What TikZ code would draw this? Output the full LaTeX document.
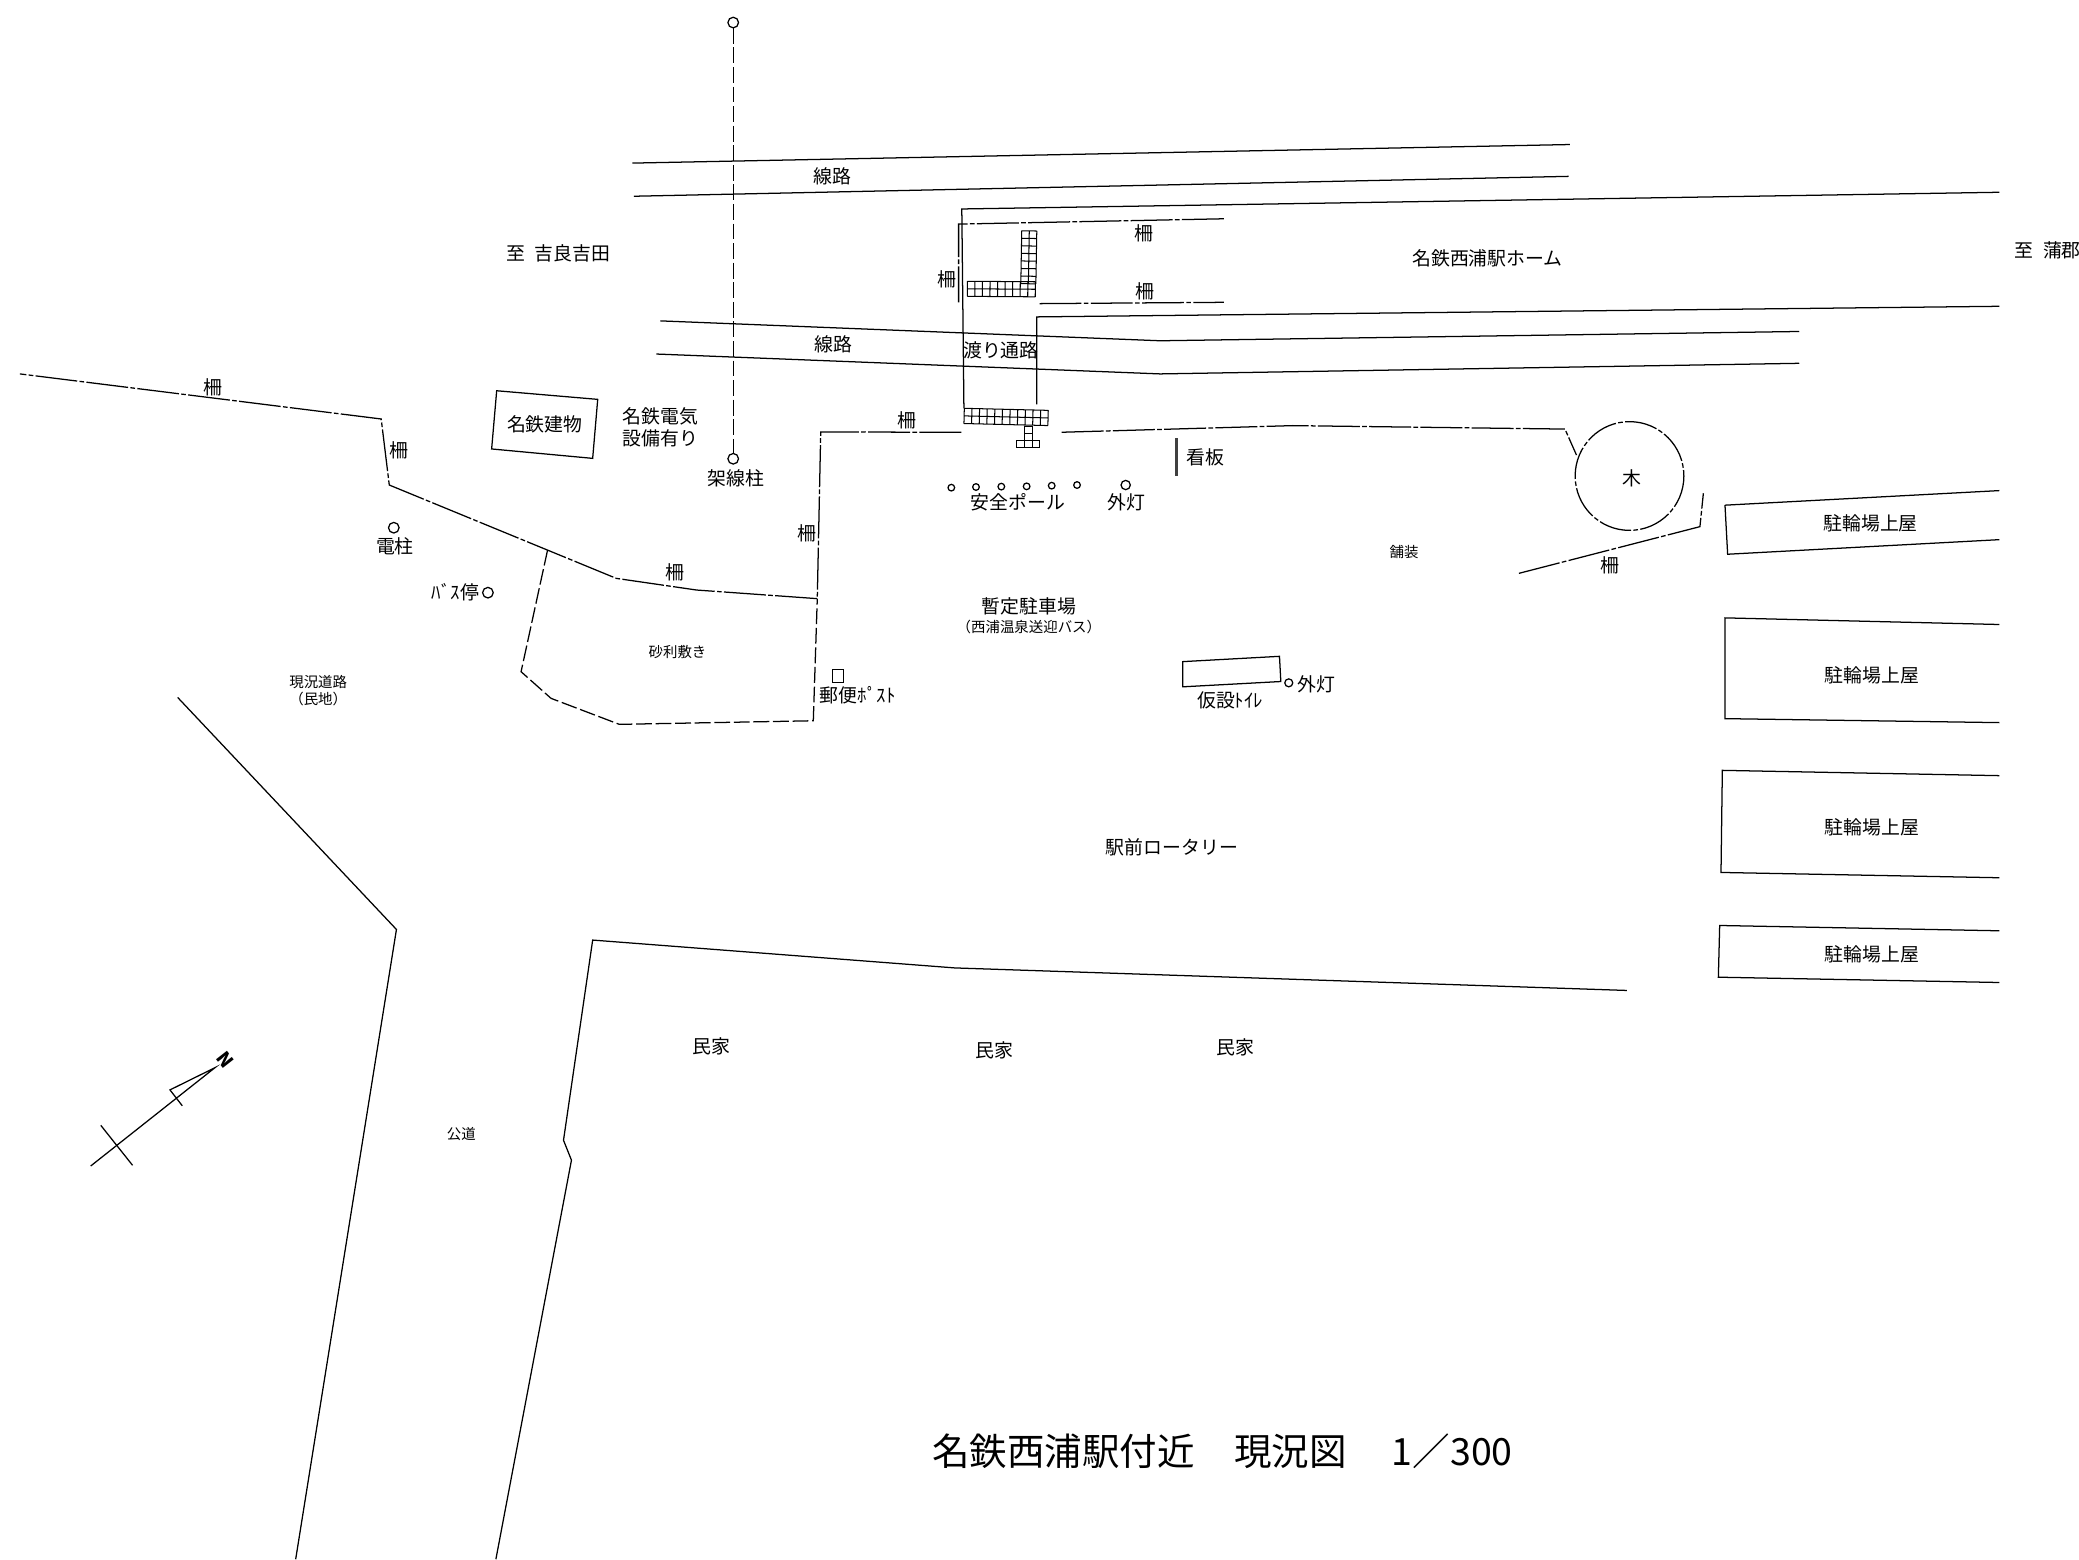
\documentclass[tikz,border=0pt]{standalone}
\usepackage{fontspec}
\setmainfont{Noto Sans CJK JP}
\usetikzlibrary{positioning}
\tikzset{
  plan/.style={black,line width=0.27pt},
  fence/.style={plan,dash pattern=on 9pt off 0.5pt on 1pt off 0.5pt},
  broken/.style={plan,dash pattern=on 3.4pt off 0.8pt},
  tile/.style={plan,line width=0.22pt,step=1},
  lbl/.style={inner sep=0pt,xshift=0.25pt,font=\fontsize{4.05}{4.7}\selectfont,align=center},
  small/.style={inner sep=0pt,font=\fontsize{3.1}{3.7}\selectfont,align=center},
}
\begin{document}
\begin{tikzpicture}[x=0.1mm,y=-0.1mm]
\useasboundingbox (0,0) rectangle (1568,1176);
\draw [broken] (553,21) -- (553,342);
\draw [plan] (553,17) circle (4);
\draw [plan] (553,346) circle (4);
\draw [plan] (477,123) -- (1184,109);
\draw [plan] (478,148) -- (1183,133);
\draw [plan] (498,242) -- (875,257) -- (1357,250);
\draw [plan] (495,267) -- (875,282) -- (1357,274);
\draw [plan] (1508,145) -- (725.4,157.6) -- (727,308);
\draw [plan] (782,305) -- (782,239) -- (1508,231);
\draw [fence] (923,165) -- (723,169) -- (723,228);
\draw [fence] (784,229) -- (923,228);
\begin{scope}[shift={(729.6,212.1)},rotate=-0.4,x=0.57mm,y=0.57mm]
\draw [tile] (0,0) grid (9,-2);
\end{scope}
\begin{scope}[shift={(770.6,174)},rotate=-1,x=0.57mm,y=0.57mm]
\draw [tile] (0,0) grid (2,-7);
\end{scope}
\begin{scope}[shift={(727.3,307.9)},rotate=-1.4,x=0.576mm,y=0.576mm]
\draw [tile] (0,0) grid (11,-2);
\end{scope}
\begin{scope}[shift={(773,321.5)},x=0.55mm,y=0.55mm]
\draw [tile] (0,0) grid (1,-2);
\end{scope}
\begin{scope}[shift={(766.8,332)},x=0.585mm,y=0.585mm]
\draw [tile] (0,0) grid (3,-1);
\end{scope}
\draw [fence] (725,326) -- (619,325.8) -- (616.4,451.5) -- (525.4,445) -- (464.8,436.2) -- (293.6,365.8) -- (287.5,316) -- (15,282);
\draw [fence] (800.7,326) -- (975,321) -- (1180.3,323.6) -- (1189,343.2);
\draw [fence] (1145.6,432.4) -- (1282.1,397.2) -- (1284.7,372);
\draw [broken] (413,414.8) -- (393,506.6) -- (415.6,526.7) -- (467.1,546.3) -- (613.4,543.6) -- (616.4,451.5);
\draw [plan] (374.6,294.7) -- (450.8,301.2) -- (447,345.7) -- (370.8,338.6) -- cycle;
\draw [plan] (297,398) circle (4);
\draw [plan] (368,447) circle (4);
\draw [plan] (628,505) rectangle (636,515);
\foreach \xpole/\ypole in {717.5/367.8,736.1/367.3,755.2/367,774.3/366.8,793.2/366.3,812.3/365.8}
  \draw [plan] (\xpole,\ypole) circle (2.5);
\draw [plan] (849,365.8) circle (3.5);
\draw [plan,line width=0.55pt,black!75] (887.2,330.6) -- (887.2,359);
\draw [fence,dash pattern=on 7pt off 0.5pt on 1pt off 0.5pt] (1229,359) circle (41);
\draw [plan] (1301,381) -- (1508,370);
\draw [plan] (1301,381) -- (1303,418) -- (1508,407);
\draw [plan] (1508,471) -- (1301,466) -- (1301,542) -- (1508,545);
\draw [plan] (1508,585) -- (1299,581) -- (1298,658) -- (1508,662);
\draw [plan] (1508,702) -- (1297,698) -- (1296,737) -- (1508,741);
\draw [plan] (892,499) -- (965,495) -- (966,514) -- (892,518) -- cycle;
\draw [plan] (972,515) circle (3);
\draw [plan] (134,526) -- (299,701) -- (223,1176);
\draw [plan] (1227,747) -- (720,730) -- (447,709) -- (425,860) -- (431,875) -- (374,1176);
\draw [plan] (68.4,879.4) -- (162.2,805.2) -- (128.2,822) -- (137.5,834);
\draw [plan] (76,848.7) -- (100,878.9);
\node [lbl] (senroa) at (627,133) {線路};
\node [lbl] (senrob) at (628,260) {線路};
\node [lbl] (kira) at (420,191) {至\hspace{0.5em}吉良吉田};
\node [lbl,anchor=west] (gamagori) at (1518,189) {至\hspace{0.5em}蒲郡};
\node [lbl] (home) at (1121,195) {名鉄西浦駅ホーム};
\node [lbl] (sakua) at (862,176) {柵};
\node [lbl] (sakub) at (863,220) {柵};
\node [lbl] (sakuc) at (713,211) {柵};
\node [lbl] (watari) at (754,264) {渡り通路};
\node [lbl] (sakud) at (160,292) {柵};
\node [lbl] (sakue) at (300,340) {柵};
\node [lbl] (sakuf) at (683,317) {柵};
\node [lbl] (sakug) at (608,402) {柵};
\node [lbl] (sakuh) at (508,432) {柵};
\node [lbl] (sakui) at (1213,426) {柵};
\node [lbl] (tatemono) at (410,320) {名鉄建物};
\node [lbl] (denki) at (497,322) {名鉄電気\\設備有り};
\node [lbl] (kasen) at (554,361) {架線柱};
\node [lbl] (denchu) at (297,412) {電柱};
\node [lbl,anchor=east] (busstop) at (361,447) {ﾊﾞｽ停};
\node [lbl] (pole) at (767,379) {安全ポール};
\node [lbl] (gaitoa) at (849,379) {外灯};
\node [lbl] (kanban) at (908,345) {看板};
\node [lbl] (ki) at (1230,361) {木};
\node [small] (hoso) at (1059,416) {舗装};
\node [small] (jari) at (511,492) {砂利敷き};
\node [small] (genkyo) at (240,521) {現況道路\\（民地）};
\node [lbl] (post) at (646,524) {郵便ﾎﾟｽﾄ};
\node [lbl] (zantei) at (775,457) {暫定駐車場};
\node [small] (sogei) at (776,473) {（西浦温泉送迎バス）};
\node [lbl] (toilet) at (927,528) {仮設ﾄｲﾚ};
\node [lbl] (gaitob) at (992,516) {外灯};
\node [lbl] (rinrina) at (1410,395) {駐輪場上屋};
\node [lbl] (rinrinb) at (1411,509) {駐輪場上屋};
\node [lbl] (rinrinc) at (1411,624) {駐輪場上屋};
\node [lbl] (rinrind) at (1411,720) {駐輪場上屋};
\node [lbl] (rotary) at (883,639) {駅前ロータリー};
\node [lbl] (minkaa) at (536,789) {民家};
\node [lbl] (minkab) at (749,792) {民家};
\node [lbl] (minkac) at (931,790) {民家};
\node [small] (kodo) at (348,855) {公道};
\node [lbl,font=\bfseries\fontsize{4}{4}\selectfont,rotate=-52] (north) at (169.2,799) {N};
\node [inner sep=0pt,anchor=west,font=\fontsize{8.05}{9}\selectfont] (title) at (702.5,1094.5) {名鉄西浦駅付近\hspace{1.05em}現況図\hspace{1.2em}1／300};
\end{tikzpicture}
\end{document}
